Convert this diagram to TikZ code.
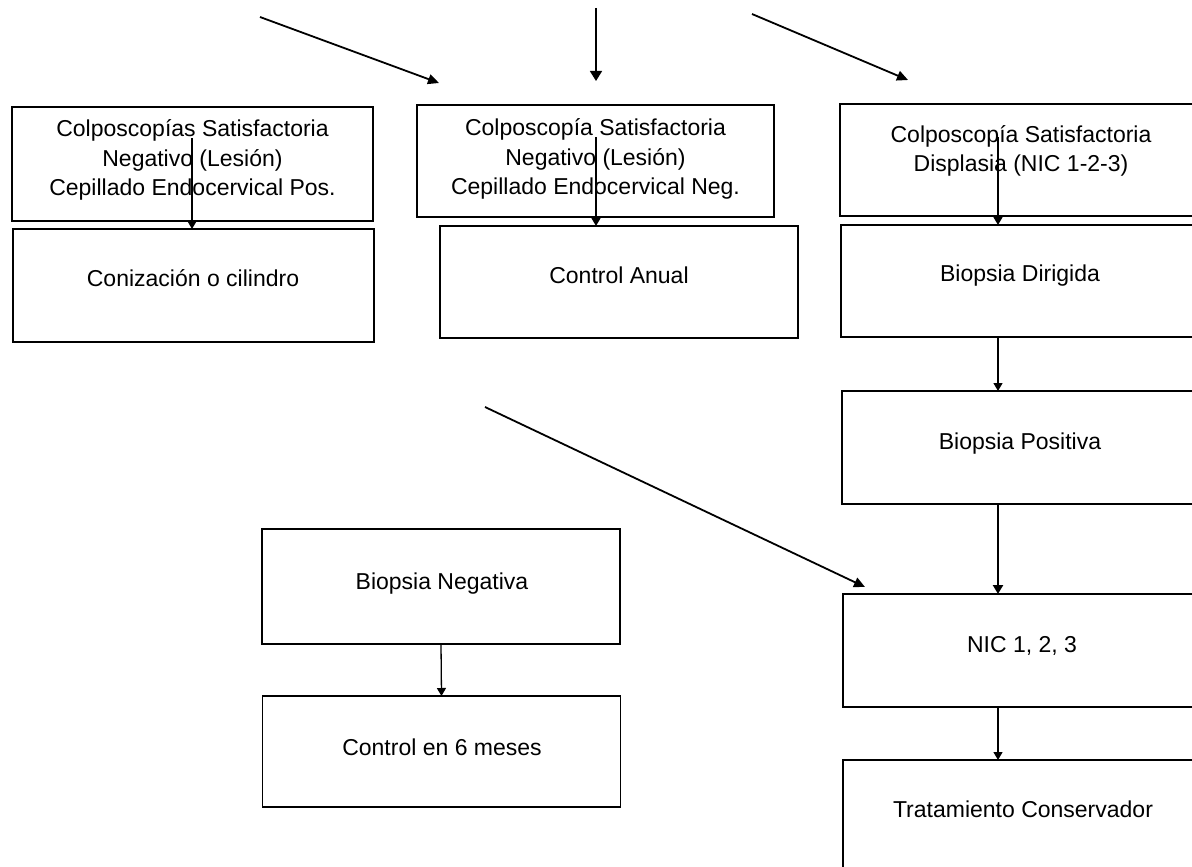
\documentclass[tikz,border=0pt]{standalone}
\usepackage{fontspec}
\setmainfont{Liberation Sans}
\usetikzlibrary{arrows.meta,calc}
\begin{document}
\begin{tikzpicture}[x=1pt,y=-1pt,
  box/.style={draw=black, line width=1.6pt, rectangle, minimum width=358pt,
              minimum height=113pt, inner sep=0pt, outer sep=0pt},
  lbl/.style={font=\fontsize{23}{29.5}\selectfont, text height=16.5pt,
              text depth=5pt, inner sep=0pt},
  multi/.style={font=\fontsize{23}{29.5}\selectfont, align=center, inner sep=0pt},
  link/.style={line width=1.3pt, -{Triangle[length=8pt,width=9pt]}},
  thick link/.style={line width=2.6pt, -{Triangle[length=9pt,width=10pt]}},
  feed/.style={line width=1.8pt, -{Triangle[length=11pt,width=10pt]}}
]
\fill[white] (0,0) rectangle (1192,867);
\useasboundingbox (0,0) rectangle (1192,867);
\clip (0,0) rectangle (1192,867);

% ---- first row: colposcopy results ----
\node[box, minimum width=361pt, minimum height=114pt] (b1) at (192.5,164) {};
\node[multi] (t1) at (192.5,160) {Colposcopías Satisfactoria\\Negativo (Lesión)\\Cepillado Endocervical Pos.};

\node[box, minimum width=357pt, minimum height=112pt] (b3) at (595.5,161) {};
\node[multi] (t3) at (595.5,159) {Colposcopía Satisfactoria\\Negativo (Lesión)\\Cepillado Endocervical Neg.};

\node[box, minimum height=112pt] (b5) at (1019,160) {};
\node[multi] (t5) at (1021,151) {Colposcopía Satisfactoria\\Displasia (NIC 1-2-3)};

% ---- second row: actions ----
\node[box, minimum width=361pt] (b2) at (193.5,285.5) {};
\node[lbl] (t2) at (193,281) {Conización o cilindro};

\node[box, minimum height=112pt] (b4) at (619,282) {};
\node[lbl] (t4) at (619,278) {Control Anual};

\node[box, minimum height=112pt] (b6) at (1020,281) {};
\node[lbl] (t6) at (1020,276) {Biopsia Dirigida};

% ---- right column ----
\node[box] (b7) at (1021,447.5) {};
\node[lbl] (t7) at (1020,444) {Biopsia Positiva};

\node[box] (b8) at (1022,650.5) {};
\node[lbl] (t8) at (1022,647) {NIC 1, 2, 3};

\node[box] (b9) at (1022,816.5) {};
\node[lbl] (t9) at (1023,812) {Tratamiento Conservador};

% ---- negative biopsy branch ----
\node[box, minimum height=115pt] (b10) at (441,586.5) {};
\node[lbl] (t10) at (442,584) {Biopsia Negativa};

\node[box, minimum height=111pt] (b11) at (441.5,751.5) {};
\node[lbl] (t11) at (442,750) {Control en 6 meses};

% ---- connector end points ----
\coordinate (s1) at (192,138);
\coordinate (s2) at (596,137);
\coordinate (s3) at (998,137);
\coordinate (col) at (998,0);
\coordinate (inA) at (260,17);
\coordinate (inAe) at (439,83);
\coordinate (inB) at (596,8);
\coordinate (inBe) at (596,81);
\coordinate (inC) at (752,14);
\coordinate (inCe) at (908,80);
\coordinate (mid) at (485,407);
\coordinate (mide) at (865,587);

% ---- incoming arrows from above ----
\draw[feed] (inA) -- (inAe);
\draw[link, line width=1.5pt, -{Triangle[length=10pt,width=12pt]}] (inB) -- (inBe);
\draw[feed] (inC) -- (inCe);

% ---- arrows between boxes ----
\draw[link] (s1) -- (s1 |- b2.north);
\draw[link] (s2) -- (s2 |- b4.north);
\draw[link] (s3) -- (s3 |- b6.north);
\draw[link] (b6.south -| col) -- (b7.north -| col);
\draw[thick link] (b7.south -| col) -- (b8.north -| col);
\draw[link] (b8.south -| col) -- (b9.north -| col);
\draw[link] (b10.south) -- (b11.north);

% ---- long diagonal towards NIC ----
\draw[feed] (mid) -- (mide);
\end{tikzpicture}
\end{document}
